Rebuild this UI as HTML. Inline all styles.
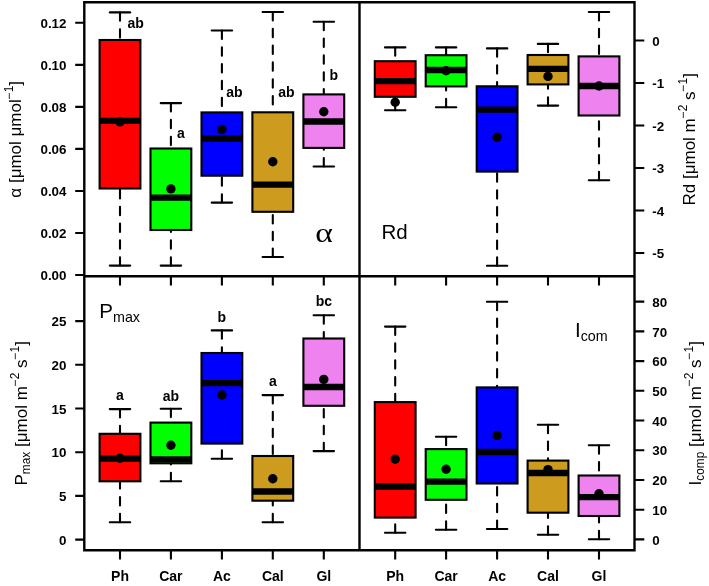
<!DOCTYPE html>
<html><head><meta charset="utf-8"><title>Boxplots</title>
<style>html,body{margin:0;padding:0;background:#fff;width:709px;height:586px;overflow:hidden}svg{display:block;will-change:transform}text{fill:#000}</style>
</head><body>
<svg width="709" height="586" viewBox="0 0 709 586">
<rect width="709" height="586" fill="#fff"/>
<path d="M84.3 2.2H634.5V550.2H84.3Z M359.5 2.2V550.2 M84.3 276.3H634.5" stroke="#000" stroke-width="2.4" fill="none" stroke-linejoin="miter"/>
<path d="M120 12.4V40M120 265.6V188.5" stroke="#000" stroke-width="2.1" stroke-dasharray="8.4 8.4" stroke-linecap="round" fill="none"/>
<path d="M109.8 12.4H130.2M109.8 265.6H130.2" stroke="#000" stroke-width="2.1" stroke-linecap="round" fill="none"/>
<rect x="99.6" y="40" width="40.8" height="148.5" fill="#FF0000" stroke="#000" stroke-width="2.1"/>
<path d="M99.6 120.9H140.4" stroke="#000" stroke-width="6.3" stroke-linecap="butt"/>
<circle cx="120" cy="121.9" r="4.7" fill="#000"/>
<path d="M170.9 103.1V148.5M170.9 265.6V230" stroke="#000" stroke-width="2.1" stroke-dasharray="8.4 8.4" stroke-linecap="round" fill="none"/>
<path d="M160.7 103.1H181.1M160.7 265.6H181.1" stroke="#000" stroke-width="2.1" stroke-linecap="round" fill="none"/>
<rect x="150.5" y="148.5" width="40.8" height="81.5" fill="#00FF00" stroke="#000" stroke-width="2.1"/>
<path d="M150.5 197.6H191.3" stroke="#000" stroke-width="6.3" stroke-linecap="butt"/>
<circle cx="170.9" cy="188.9" r="4.7" fill="#000"/>
<path d="M221.9 30.5V112.4M221.9 202.6V175.7" stroke="#000" stroke-width="2.1" stroke-dasharray="8.4 8.4" stroke-linecap="round" fill="none"/>
<path d="M211.7 30.5H232.1M211.7 202.6H232.1" stroke="#000" stroke-width="2.1" stroke-linecap="round" fill="none"/>
<rect x="201.5" y="112.4" width="40.8" height="63.3" fill="#0000FF" stroke="#000" stroke-width="2.1"/>
<path d="M201.5 138.6H242.3" stroke="#000" stroke-width="6.3" stroke-linecap="butt"/>
<circle cx="221.9" cy="129.5" r="4.7" fill="#000"/>
<path d="M272.8 12V112.3M272.8 257V211.8" stroke="#000" stroke-width="2.1" stroke-dasharray="8.4 8.4" stroke-linecap="round" fill="none"/>
<path d="M262.6 12H283M262.6 257H283" stroke="#000" stroke-width="2.1" stroke-linecap="round" fill="none"/>
<rect x="252.4" y="112.3" width="40.8" height="99.5" fill="#CD9B1D" stroke="#000" stroke-width="2.1"/>
<path d="M252.4 184.7H293.2" stroke="#000" stroke-width="6.3" stroke-linecap="butt"/>
<circle cx="272.8" cy="161.7" r="4.7" fill="#000"/>
<path d="M323.8 21.8V94.4M323.8 166.5V147.9" stroke="#000" stroke-width="2.1" stroke-dasharray="8.4 8.4" stroke-linecap="round" fill="none"/>
<path d="M313.6 21.8H334M313.6 166.5H334" stroke="#000" stroke-width="2.1" stroke-linecap="round" fill="none"/>
<rect x="303.4" y="94.4" width="40.8" height="53.5" fill="#EE82EE" stroke="#000" stroke-width="2.1"/>
<path d="M303.4 121.5H344.2" stroke="#000" stroke-width="6.3" stroke-linecap="butt"/>
<circle cx="323.8" cy="111.8" r="4.7" fill="#000"/>
<path d="M395.2 47.4V61.2M395.2 110.3V96.8" stroke="#000" stroke-width="2.1" stroke-dasharray="8.4 8.4" stroke-linecap="round" fill="none"/>
<path d="M385 47.4H405.4M385 110.3H405.4" stroke="#000" stroke-width="2.1" stroke-linecap="round" fill="none"/>
<rect x="374.8" y="61.2" width="40.8" height="35.6" fill="#FF0000" stroke="#000" stroke-width="2.1"/>
<path d="M374.8 81.2H415.6" stroke="#000" stroke-width="6.3" stroke-linecap="butt"/>
<circle cx="395.2" cy="102.2" r="4.7" fill="#000"/>
<path d="M446.1 47.4V55.2M446.1 107.3V86.4" stroke="#000" stroke-width="2.1" stroke-dasharray="8.4 8.4" stroke-linecap="round" fill="none"/>
<path d="M435.9 47.4H456.3M435.9 107.3H456.3" stroke="#000" stroke-width="2.1" stroke-linecap="round" fill="none"/>
<rect x="425.7" y="55.2" width="40.8" height="31.2" fill="#00FF00" stroke="#000" stroke-width="2.1"/>
<path d="M425.7 70H466.5" stroke="#000" stroke-width="6.3" stroke-linecap="butt"/>
<circle cx="446.1" cy="70.8" r="4.7" fill="#000"/>
<path d="M497.1 48.4V86.3M497.1 265.8V171.6" stroke="#000" stroke-width="2.1" stroke-dasharray="8.4 8.4" stroke-linecap="round" fill="none"/>
<path d="M486.9 48.4H507.3M486.9 265.8H507.3" stroke="#000" stroke-width="2.1" stroke-linecap="round" fill="none"/>
<rect x="476.7" y="86.3" width="40.8" height="85.3" fill="#0000FF" stroke="#000" stroke-width="2.1"/>
<path d="M476.7 109.7H517.5" stroke="#000" stroke-width="6.3" stroke-linecap="butt"/>
<circle cx="497.1" cy="137.2" r="4.7" fill="#000"/>
<path d="M548 43.9V55M548 105.6V84.4" stroke="#000" stroke-width="2.1" stroke-dasharray="8.4 8.4" stroke-linecap="round" fill="none"/>
<path d="M537.8 43.9H558.2M537.8 105.6H558.2" stroke="#000" stroke-width="2.1" stroke-linecap="round" fill="none"/>
<rect x="527.6" y="55" width="40.8" height="29.4" fill="#CD9B1D" stroke="#000" stroke-width="2.1"/>
<path d="M527.6 68.8H568.4" stroke="#000" stroke-width="6.3" stroke-linecap="butt"/>
<circle cx="548" cy="76.4" r="4.7" fill="#000"/>
<path d="M599 12V56.4M599 180.2V115.5" stroke="#000" stroke-width="2.1" stroke-dasharray="8.4 8.4" stroke-linecap="round" fill="none"/>
<path d="M588.8 12H609.2M588.8 180.2H609.2" stroke="#000" stroke-width="2.1" stroke-linecap="round" fill="none"/>
<rect x="578.6" y="56.4" width="40.8" height="59.1" fill="#EE82EE" stroke="#000" stroke-width="2.1"/>
<path d="M578.6 86H619.4" stroke="#000" stroke-width="6.3" stroke-linecap="butt"/>
<circle cx="599" cy="86" r="4.7" fill="#000"/>
<path d="M120 409.1V433.8M120 522.2V481.3" stroke="#000" stroke-width="2.1" stroke-dasharray="8.4 8.4" stroke-linecap="round" fill="none"/>
<path d="M109.8 409.1H130.2M109.8 522.2H130.2" stroke="#000" stroke-width="2.1" stroke-linecap="round" fill="none"/>
<rect x="99.6" y="433.8" width="40.8" height="47.5" fill="#FF0000" stroke="#000" stroke-width="2.1"/>
<path d="M99.6 458.7H140.4" stroke="#000" stroke-width="6.3" stroke-linecap="butt"/>
<circle cx="120" cy="458.2" r="4.7" fill="#000"/>
<path d="M170.9 408.7V422.6M170.9 481.2V463.3" stroke="#000" stroke-width="2.1" stroke-dasharray="8.4 8.4" stroke-linecap="round" fill="none"/>
<path d="M160.7 408.7H181.1M160.7 481.2H181.1" stroke="#000" stroke-width="2.1" stroke-linecap="round" fill="none"/>
<rect x="150.5" y="422.6" width="40.8" height="40.7" fill="#00FF00" stroke="#000" stroke-width="2.1"/>
<path d="M150.5 459.3H191.3" stroke="#000" stroke-width="6.3" stroke-linecap="butt"/>
<circle cx="170.9" cy="445.3" r="4.7" fill="#000"/>
<path d="M221.9 330.4V353M221.9 458.7V443.6" stroke="#000" stroke-width="2.1" stroke-dasharray="8.4 8.4" stroke-linecap="round" fill="none"/>
<path d="M211.7 330.4H232.1M211.7 458.7H232.1" stroke="#000" stroke-width="2.1" stroke-linecap="round" fill="none"/>
<rect x="201.5" y="353" width="40.8" height="90.6" fill="#0000FF" stroke="#000" stroke-width="2.1"/>
<path d="M201.5 383.2H242.3" stroke="#000" stroke-width="6.3" stroke-linecap="butt"/>
<circle cx="221.9" cy="395" r="4.7" fill="#000"/>
<path d="M272.8 395.1V456M272.8 522.2V500.7" stroke="#000" stroke-width="2.1" stroke-dasharray="8.4 8.4" stroke-linecap="round" fill="none"/>
<path d="M262.6 395.1H283M262.6 522.2H283" stroke="#000" stroke-width="2.1" stroke-linecap="round" fill="none"/>
<rect x="252.4" y="456" width="40.8" height="44.7" fill="#CD9B1D" stroke="#000" stroke-width="2.1"/>
<path d="M252.4 491.5H293.2" stroke="#000" stroke-width="6.3" stroke-linecap="butt"/>
<circle cx="272.8" cy="478.8" r="4.7" fill="#000"/>
<path d="M323.8 315.3V338.5M323.8 451.1V405.8" stroke="#000" stroke-width="2.1" stroke-dasharray="8.4 8.4" stroke-linecap="round" fill="none"/>
<path d="M313.6 315.3H334M313.6 451.1H334" stroke="#000" stroke-width="2.1" stroke-linecap="round" fill="none"/>
<rect x="303.4" y="338.5" width="40.8" height="67.3" fill="#EE82EE" stroke="#000" stroke-width="2.1"/>
<path d="M303.4 387H344.2" stroke="#000" stroke-width="6.3" stroke-linecap="butt"/>
<circle cx="323.8" cy="379.4" r="4.7" fill="#000"/>
<path d="M395.2 326.6V402.1M395.2 532.7V517.6" stroke="#000" stroke-width="2.1" stroke-dasharray="8.4 8.4" stroke-linecap="round" fill="none"/>
<path d="M385 326.6H405.4M385 532.7H405.4" stroke="#000" stroke-width="2.1" stroke-linecap="round" fill="none"/>
<rect x="374.8" y="402.1" width="40.8" height="115.5" fill="#FF0000" stroke="#000" stroke-width="2.1"/>
<path d="M374.8 486.5H415.6" stroke="#000" stroke-width="6.3" stroke-linecap="butt"/>
<circle cx="395.2" cy="459.3" r="4.7" fill="#000"/>
<path d="M446.1 436.8V449.1M446.1 529.8V499.8" stroke="#000" stroke-width="2.1" stroke-dasharray="8.4 8.4" stroke-linecap="round" fill="none"/>
<path d="M435.9 436.8H456.3M435.9 529.8H456.3" stroke="#000" stroke-width="2.1" stroke-linecap="round" fill="none"/>
<rect x="425.7" y="449.1" width="40.8" height="50.7" fill="#00FF00" stroke="#000" stroke-width="2.1"/>
<path d="M425.7 481.6H466.5" stroke="#000" stroke-width="6.3" stroke-linecap="butt"/>
<circle cx="446.1" cy="469.2" r="4.7" fill="#000"/>
<path d="M497.1 301.8V387.4M497.1 529V483.5" stroke="#000" stroke-width="2.1" stroke-dasharray="8.4 8.4" stroke-linecap="round" fill="none"/>
<path d="M486.9 301.8H507.3M486.9 529H507.3" stroke="#000" stroke-width="2.1" stroke-linecap="round" fill="none"/>
<rect x="476.7" y="387.4" width="40.8" height="96.1" fill="#0000FF" stroke="#000" stroke-width="2.1"/>
<path d="M476.7 452H517.5" stroke="#000" stroke-width="6.3" stroke-linecap="butt"/>
<circle cx="497.1" cy="435.5" r="4.7" fill="#000"/>
<path d="M548 424.8V460.6M548 534.7V512.7" stroke="#000" stroke-width="2.1" stroke-dasharray="8.4 8.4" stroke-linecap="round" fill="none"/>
<path d="M537.8 424.8H558.2M537.8 534.7H558.2" stroke="#000" stroke-width="2.1" stroke-linecap="round" fill="none"/>
<rect x="527.6" y="460.6" width="40.8" height="52.1" fill="#CD9B1D" stroke="#000" stroke-width="2.1"/>
<path d="M527.6 473H568.4" stroke="#000" stroke-width="6.3" stroke-linecap="butt"/>
<circle cx="548" cy="469.6" r="4.7" fill="#000"/>
<path d="M599 445.3V475.5M599 539.2V516" stroke="#000" stroke-width="2.1" stroke-dasharray="8.4 8.4" stroke-linecap="round" fill="none"/>
<path d="M588.8 445.3H609.2M588.8 539.2H609.2" stroke="#000" stroke-width="2.1" stroke-linecap="round" fill="none"/>
<rect x="578.6" y="475.5" width="40.8" height="40.5" fill="#EE82EE" stroke="#000" stroke-width="2.1"/>
<path d="M578.6 497.2H619.4" stroke="#000" stroke-width="6.3" stroke-linecap="butt"/>
<circle cx="599" cy="493.8" r="4.7" fill="#000"/>
<path d="M75.2 275H84.3M75.2 232.97H84.3M75.2 190.94H84.3M75.2 148.91H84.3M75.2 106.88H84.3M75.2 64.85H84.3M75.2 22.82H84.3M75.2 539.6H84.3M75.2 495.9H84.3M75.2 452.2H84.3M75.2 408.5H84.3M75.2 364.8H84.3M75.2 321.1H84.3" stroke="#000" stroke-width="2.1" fill="none"/>
<path d="M634.5 40.5H644.3M634.5 83H644.3M634.5 125.5H644.3M634.5 168H644.3M634.5 210.5H644.3M634.5 253H644.3M634.5 539.4H644.3M634.5 509.68H644.3M634.5 479.96H644.3M634.5 450.24H644.3M634.5 420.52H644.3M634.5 390.8H644.3M634.5 361.08H644.3M634.5 331.36H644.3M634.5 301.64H644.3" stroke="#000" stroke-width="2.1" fill="none"/>
<path d="M120 550.2V559.6M170.9 550.2V559.6M221.9 550.2V559.6M272.8 550.2V559.6M323.8 550.2V559.6M395.2 550.2V559.6M446.1 550.2V559.6M497.1 550.2V559.6M548 550.2V559.6M599 550.2V559.6" stroke="#000" stroke-width="2.1" fill="none"/>
<path d="M120 276.3V285.4M170.9 276.3V285.4M221.9 276.3V285.4M272.8 276.3V285.4M323.8 276.3V285.4M395.2 276.3V285.4M446.1 276.3V285.4M497.1 276.3V285.4M548 276.3V285.4M599 276.3V285.4" stroke="#000" stroke-width="2.1" fill="none"/>
<text x="66.5" y="280.2" font-size="13.4" text-anchor="end" font-weight="bold" font-family="Liberation Sans" >0.00</text>
<text x="66.5" y="238.17" font-size="13.4" text-anchor="end" font-weight="bold" font-family="Liberation Sans" >0.02</text>
<text x="66.5" y="196.14" font-size="13.4" text-anchor="end" font-weight="bold" font-family="Liberation Sans" >0.04</text>
<text x="66.5" y="154.11" font-size="13.4" text-anchor="end" font-weight="bold" font-family="Liberation Sans" >0.06</text>
<text x="66.5" y="112.08" font-size="13.4" text-anchor="end" font-weight="bold" font-family="Liberation Sans" >0.08</text>
<text x="66.5" y="70.05" font-size="13.4" text-anchor="end" font-weight="bold" font-family="Liberation Sans" >0.10</text>
<text x="66.5" y="28.02" font-size="13.4" text-anchor="end" font-weight="bold" font-family="Liberation Sans" >0.12</text>
<text x="66.5" y="544.8" font-size="13.4" text-anchor="end" font-weight="bold" font-family="Liberation Sans" >0</text>
<text x="66.5" y="501.1" font-size="13.4" text-anchor="end" font-weight="bold" font-family="Liberation Sans" >5</text>
<text x="66.5" y="457.4" font-size="13.4" text-anchor="end" font-weight="bold" font-family="Liberation Sans" >10</text>
<text x="66.5" y="413.7" font-size="13.4" text-anchor="end" font-weight="bold" font-family="Liberation Sans" >15</text>
<text x="66.5" y="370" font-size="13.4" text-anchor="end" font-weight="bold" font-family="Liberation Sans" >20</text>
<text x="66.5" y="326.3" font-size="13.4" text-anchor="end" font-weight="bold" font-family="Liberation Sans" >25</text>
<text x="652.3" y="45.7" font-size="13.4" text-anchor="start" font-weight="bold" font-family="Liberation Sans" >0</text>
<text x="652.3" y="88.2" font-size="13.4" text-anchor="start" font-weight="bold" font-family="Liberation Sans" >-1</text>
<text x="652.3" y="130.7" font-size="13.4" text-anchor="start" font-weight="bold" font-family="Liberation Sans" >-2</text>
<text x="652.3" y="173.2" font-size="13.4" text-anchor="start" font-weight="bold" font-family="Liberation Sans" >-3</text>
<text x="652.3" y="215.7" font-size="13.4" text-anchor="start" font-weight="bold" font-family="Liberation Sans" >-4</text>
<text x="652.3" y="258.2" font-size="13.4" text-anchor="start" font-weight="bold" font-family="Liberation Sans" >-5</text>
<text x="652.3" y="544.6" font-size="13.4" text-anchor="start" font-weight="bold" font-family="Liberation Sans" >0</text>
<text x="652.3" y="514.88" font-size="13.4" text-anchor="start" font-weight="bold" font-family="Liberation Sans" >10</text>
<text x="652.3" y="485.16" font-size="13.4" text-anchor="start" font-weight="bold" font-family="Liberation Sans" >20</text>
<text x="652.3" y="455.44" font-size="13.4" text-anchor="start" font-weight="bold" font-family="Liberation Sans" >30</text>
<text x="652.3" y="425.72" font-size="13.4" text-anchor="start" font-weight="bold" font-family="Liberation Sans" >40</text>
<text x="652.3" y="396" font-size="13.4" text-anchor="start" font-weight="bold" font-family="Liberation Sans" >50</text>
<text x="652.3" y="366.28" font-size="13.4" text-anchor="start" font-weight="bold" font-family="Liberation Sans" >60</text>
<text x="652.3" y="336.56" font-size="13.4" text-anchor="start" font-weight="bold" font-family="Liberation Sans" >70</text>
<text x="652.3" y="306.84" font-size="13.4" text-anchor="start" font-weight="bold" font-family="Liberation Sans" >80</text>
<text x="120" y="580.6" font-size="14" text-anchor="middle" font-weight="bold" font-family="Liberation Sans" >Ph</text>
<text x="170.9" y="580.6" font-size="14" text-anchor="middle" font-weight="bold" font-family="Liberation Sans" >Car</text>
<text x="221.9" y="580.6" font-size="14" text-anchor="middle" font-weight="bold" font-family="Liberation Sans" >Ac</text>
<text x="272.8" y="580.6" font-size="14" text-anchor="middle" font-weight="bold" font-family="Liberation Sans" >Cal</text>
<text x="323.8" y="580.6" font-size="14" text-anchor="middle" font-weight="bold" font-family="Liberation Sans" >Gl</text>
<text x="395.2" y="580.6" font-size="14" text-anchor="middle" font-weight="bold" font-family="Liberation Sans" >Ph</text>
<text x="446.1" y="580.6" font-size="14" text-anchor="middle" font-weight="bold" font-family="Liberation Sans" >Car</text>
<text x="497.1" y="580.6" font-size="14" text-anchor="middle" font-weight="bold" font-family="Liberation Sans" >Ac</text>
<text x="548" y="580.6" font-size="14" text-anchor="middle" font-weight="bold" font-family="Liberation Sans" >Cal</text>
<text x="599" y="580.6" font-size="14" text-anchor="middle" font-weight="bold" font-family="Liberation Sans" >Gl</text>
<text x="127.5" y="27.5" font-size="14" text-anchor="start" font-weight="bold" font-family="Liberation Sans" >ab</text>
<text x="177" y="138" font-size="14" text-anchor="start" font-weight="bold" font-family="Liberation Sans" >a</text>
<text x="226.2" y="97" font-size="14" text-anchor="start" font-weight="bold" font-family="Liberation Sans" >ab</text>
<text x="278.3" y="97" font-size="14" text-anchor="start" font-weight="bold" font-family="Liberation Sans" >ab</text>
<text x="329.5" y="80" font-size="14" text-anchor="start" font-weight="bold" font-family="Liberation Sans" >b</text>
<text x="120" y="399.8" font-size="14" text-anchor="middle" font-weight="bold" font-family="Liberation Sans" >a</text>
<text x="170.9" y="400.8" font-size="14" text-anchor="middle" font-weight="bold" font-family="Liberation Sans" >ab</text>
<text x="221.9" y="321.5" font-size="14" text-anchor="middle" font-weight="bold" font-family="Liberation Sans" >b</text>
<text x="272.8" y="386.3" font-size="14" text-anchor="middle" font-weight="bold" font-family="Liberation Sans" >a</text>
<text x="323.8" y="306" font-size="14" text-anchor="middle" font-weight="bold" font-family="Liberation Sans" >bc</text>
<text transform="translate(316.2 242) scale(1.2 1)" x="-0.8" y="0" font-size="28" font-family="Liberation Serif">α</text>
<text x="381.5" y="238.7" font-size="20.5" text-anchor="start" font-weight="normal" font-family="Liberation Sans" >Rd</text>
<text x="99.3" y="317.9" font-size="20.5" font-family="Liberation Sans">P<tspan font-size="14.3" dy="4.1">max</tspan></text>
<text x="575" y="336.8" font-size="20.5" font-family="Liberation Sans">I<tspan font-size="14.3" dy="3.9">com</tspan></text>
<text transform="translate(20.9 139.3) rotate(-90)" x="0" y="0" font-size="17" text-anchor="middle" font-family="Liberation Sans">α [μmol μmol<tspan font-size="11.9" dy="-7.5">−1</tspan><tspan dy="7.5">]</tspan></text>
<text transform="translate(694.8 139.3) rotate(-90)" x="0" y="0" font-size="17" text-anchor="middle" font-family="Liberation Sans">Rd [μmol m<tspan font-size="11.9" dy="-7.5">−2</tspan><tspan dy="7.5"> s</tspan><tspan font-size="11.9" dy="-7.5">−1</tspan><tspan dy="7.5">]</tspan></text>
<text transform="translate(26.9 413.3) rotate(-90)" x="0" y="0" font-size="17" text-anchor="middle" font-family="Liberation Sans">P<tspan font-size="11.9" dy="3.5">max</tspan><tspan dy="-3.5"> [μmol m</tspan><tspan font-size="11.9" dy="-7.5">−2</tspan><tspan dy="7.5"> s</tspan><tspan font-size="11.9" dy="-7.5">−1</tspan><tspan dy="7.5">]</tspan></text>
<text transform="translate(700.8 413.3) rotate(-90)" x="0" y="0" font-size="17" text-anchor="middle" font-family="Liberation Sans">I<tspan font-size="11.9" dy="3.5">comp</tspan><tspan dy="-3.5"> [μmol m</tspan><tspan font-size="11.9" dy="-7.5">−2</tspan><tspan dy="7.5"> s</tspan><tspan font-size="11.9" dy="-7.5">−1</tspan><tspan dy="7.5">]</tspan></text>
</svg>
</body></html>
